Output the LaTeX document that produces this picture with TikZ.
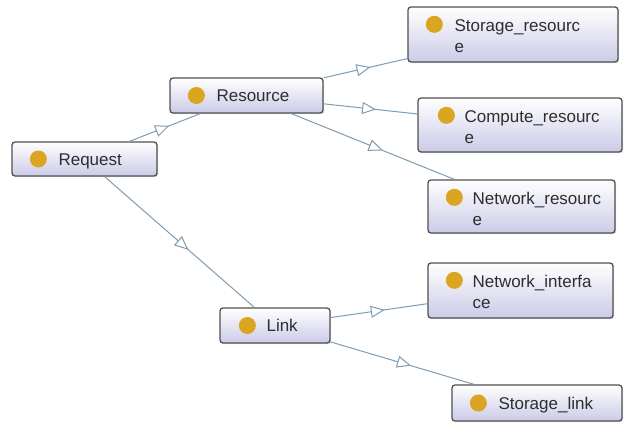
\documentclass[tikz,border=0pt]{standalone}
\usepackage{fontspec}
\setmainfont{Liberation Sans}
\usetikzlibrary{arrows.meta,decorations.markings,shadows,calc}
\definecolor{edgecol}{HTML}{7F9CB2}
\definecolor{boxborder}{HTML}{505050}
\definecolor{boxbottom}{HTML}{CBCBE8}
\definecolor{dotcol}{HTML}{DAA520}
\definecolor{txtcol}{HTML}{2E2E2E}
\tikzset{
 classbox/.style={draw=boxborder, line width=1.3pt, rounded corners=3pt, top color=white, bottom color=boxbottom, inner sep=0pt,
   drop shadow={opacity=0.25, shadow xshift=1.2pt, shadow yshift=-1.2pt}},
 dotmark/.style={circle, fill=dotcol, inner sep=0pt, minimum size=17pt},
 lbl/.style={anchor=base west, inner sep=0pt, text=txtcol, font=\fontsize{17}{20}\selectfont},
 isa/.style={color=edgecol, draw, line width=1pt, postaction={decorate},
   decoration={markings, mark=at position 0.56 with {\arrow{Triangle[length=14pt,width=12pt,fill=white,line width=1pt]}}}},
}
\begin{document}
\begin{tikzpicture}[x=1pt,y=-1pt]
\fill[white] (0,0) rectangle (628,423);
\useasboundingbox (0,0) rectangle (628,423);
% boxes
\node[classbox, minimum width=145pt, minimum height=34pt] (req) at (84.5,159) {};
\node[classbox, minimum width=153pt, minimum height=35pt] (res) at (246.5,95.5) {};
\node[classbox, minimum width=210pt, minimum height=55pt] (sto) at (513,34.5) {};
\node[classbox, minimum width=204pt, minimum height=54pt] (com) at (520,125) {};
\node[classbox, minimum width=187pt, minimum height=53pt] (net) at (521.5,206.5) {};
\node[classbox, minimum width=185pt, minimum height=55pt] (nif) at (520.5,290.5) {};
\node[classbox, minimum width=110pt, minimum height=35pt] (lnk) at (275,325.5) {};
\node[classbox, minimum width=170pt, minimum height=36pt] (stl) at (537,403) {};
% dots and labels (single line)
\node[dotmark] (reqdot) at ($(req.west)+(27,0)$) {};
\node[lbl] (reqlbl) at ($(req.west)+(47,6)$) {Request};
\node[dotmark] (resdot) at ($(res.west)+(27,0)$) {};
\node[lbl] (reslbl) at ($(res.west)+(47,6)$) {Resource};
\node[dotmark] (lnkdot) at ($(lnk.west)+(28,0)$) {};
\node[lbl] (lnklbl) at ($(lnk.west)+(47,6)$) {Link};
\node[dotmark] (stldot) at ($(stl.west)+(27,0)$) {};
\node[lbl] (stllbl) at ($(stl.west)+(47,6)$) {Storage\_link};
% dots and labels (two lines)
\node[dotmark] (stodot) at ($(sto.north west)+(27,18)$) {};
\node[lbl] (stolbla) at ($(sto.north west)+(47,25)$) {Storage\_resourc};
\node[lbl] (stolblb) at ($(sto.north west)+(47,46)$) {e};
\node[dotmark] (comdot) at ($(com.north west)+(29,18)$) {};
\node[lbl] (comlbla) at ($(com.north west)+(47,25)$) {Compute\_resourc};
\node[lbl] (comlblb) at ($(com.north west)+(47,46)$) {e};
\node[dotmark] (netdot) at ($(net.north west)+(27,18)$) {};
\node[lbl] (netlbla) at ($(net.north west)+(45,25)$) {Network\_resourc};
\node[lbl] (netlblb) at ($(net.north west)+(45,46)$) {e};
\node[dotmark] (nifdot) at ($(nif.north west)+(27,18)$) {};
\node[lbl] (niflbla) at ($(nif.north west)+(45,25)$) {Network\_interfa};
\node[lbl] (niflblb) at ($(nif.north west)+(45,46)$) {ce};
% edges
\path[isa] (req) -- (res);
\path[isa] (res) -- (sto);
\path[isa] (res) -- (com);
\path[isa] (res) -- (net);
\path[isa] (req) -- (lnk);
\path[isa] (lnk) -- (nif);
\path[isa] (lnk) -- (stl);
\end{tikzpicture}
\end{document}
